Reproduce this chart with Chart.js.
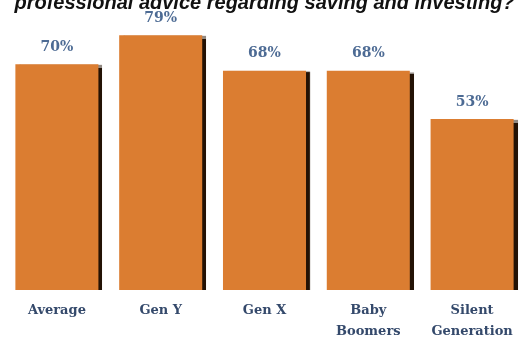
<!DOCTYPE html>
<html>
<head>
<meta charset="utf-8">
<script src="https://cdn.jsdelivr.net/npm/chart.js@4"></script>
<style>
  html, body { margin: 0; padding: 0; background: #fff; overflow: hidden; }
  #wrap { width: 532px; height: 342px; position: relative; }
</style>
</head>
<body>
<div id="wrap"><canvas id="chart"></canvas></div>
<script>
const categories = [['Average'], ['Gen Y'], ['Gen X'], ['Baby', 'Boomers'], ['Silent', 'Generation']];
const shares = [70, 79, 68, 68, 53];
const titleText = 'professional advice regarding saving and investing?';

// dark drop shadow on the right side of each bar
const barShadow = {
  id: 'barShadow',
  beforeDatasetsDraw(chart) {
    const ctx = chart.ctx;
    ctx.save();
    ctx.shadowColor = 'rgba(35, 18, 5, 1)';
    ctx.shadowOffsetX = 4;
    ctx.shadowOffsetY = 1;
    ctx.shadowBlur = 1;
  },
  afterDatasetsDraw(chart) {
    chart.ctx.restore();
  }
};

// percent labels above bars
const valueLabels = {
  id: 'valueLabels',
  afterDraw(chart) {
    const ctx = chart.ctx;
    const meta = chart.getDatasetMeta(0);
    ctx.save();
    ctx.font = 'bold 14px "DejaVu Serif"';
    ctx.fillStyle = '#4d6b94';
    ctx.textAlign = 'center';
    ctx.textBaseline = 'bottom';
    meta.data.forEach((bar, i) => {
      ctx.fillText(shares[i] + '%', bar.x, bar.y - 10);
    });
    ctx.restore();
  }
};

new Chart(document.getElementById('chart').getContext('2d'), {
  type: 'bar',
  data: {
    labels: categories,
    datasets: [{
      data: shares,
      backgroundColor: '#db7d31',
      borderWidth: 0,
      categoryPercentage: 1,
      barPercentage: 0.8
    }]
  },
  options: {
    responsive: true,
    maintainAspectRatio: false,
    animation: false,
    layout: { padding: { left: 5, right: 8, top: 0, bottom: 0 } },
    plugins: {
      legend: { display: false },
      tooltip: { enabled: false },
      title: {
        display: true,
        text: titleText,
        color: '#111',
        font: { family: '"Liberation Sans"', size: 20, style: 'italic', weight: 'bold' },
        padding: { top: -9, bottom: 17 }
      }
    },
    scales: {
      x: {
        grid: { display: false, drawTicks: false, tickLength: 0 },
        border: { display: false },
        ticks: {
          color: '#34496b',
          font: { family: '"DejaVu Serif"', size: 13, weight: 'bold', lineHeight: 1.6 },
          padding: 10,
          maxRotation: 0
        },
        afterFit(scale) { scale.height = 52; }
      },
      y: {
        display: false,
        min: 0,
        max: 80
      }
    }
  },
  plugins: [barShadow, valueLabels]
});
</script>
</body>
</html>
